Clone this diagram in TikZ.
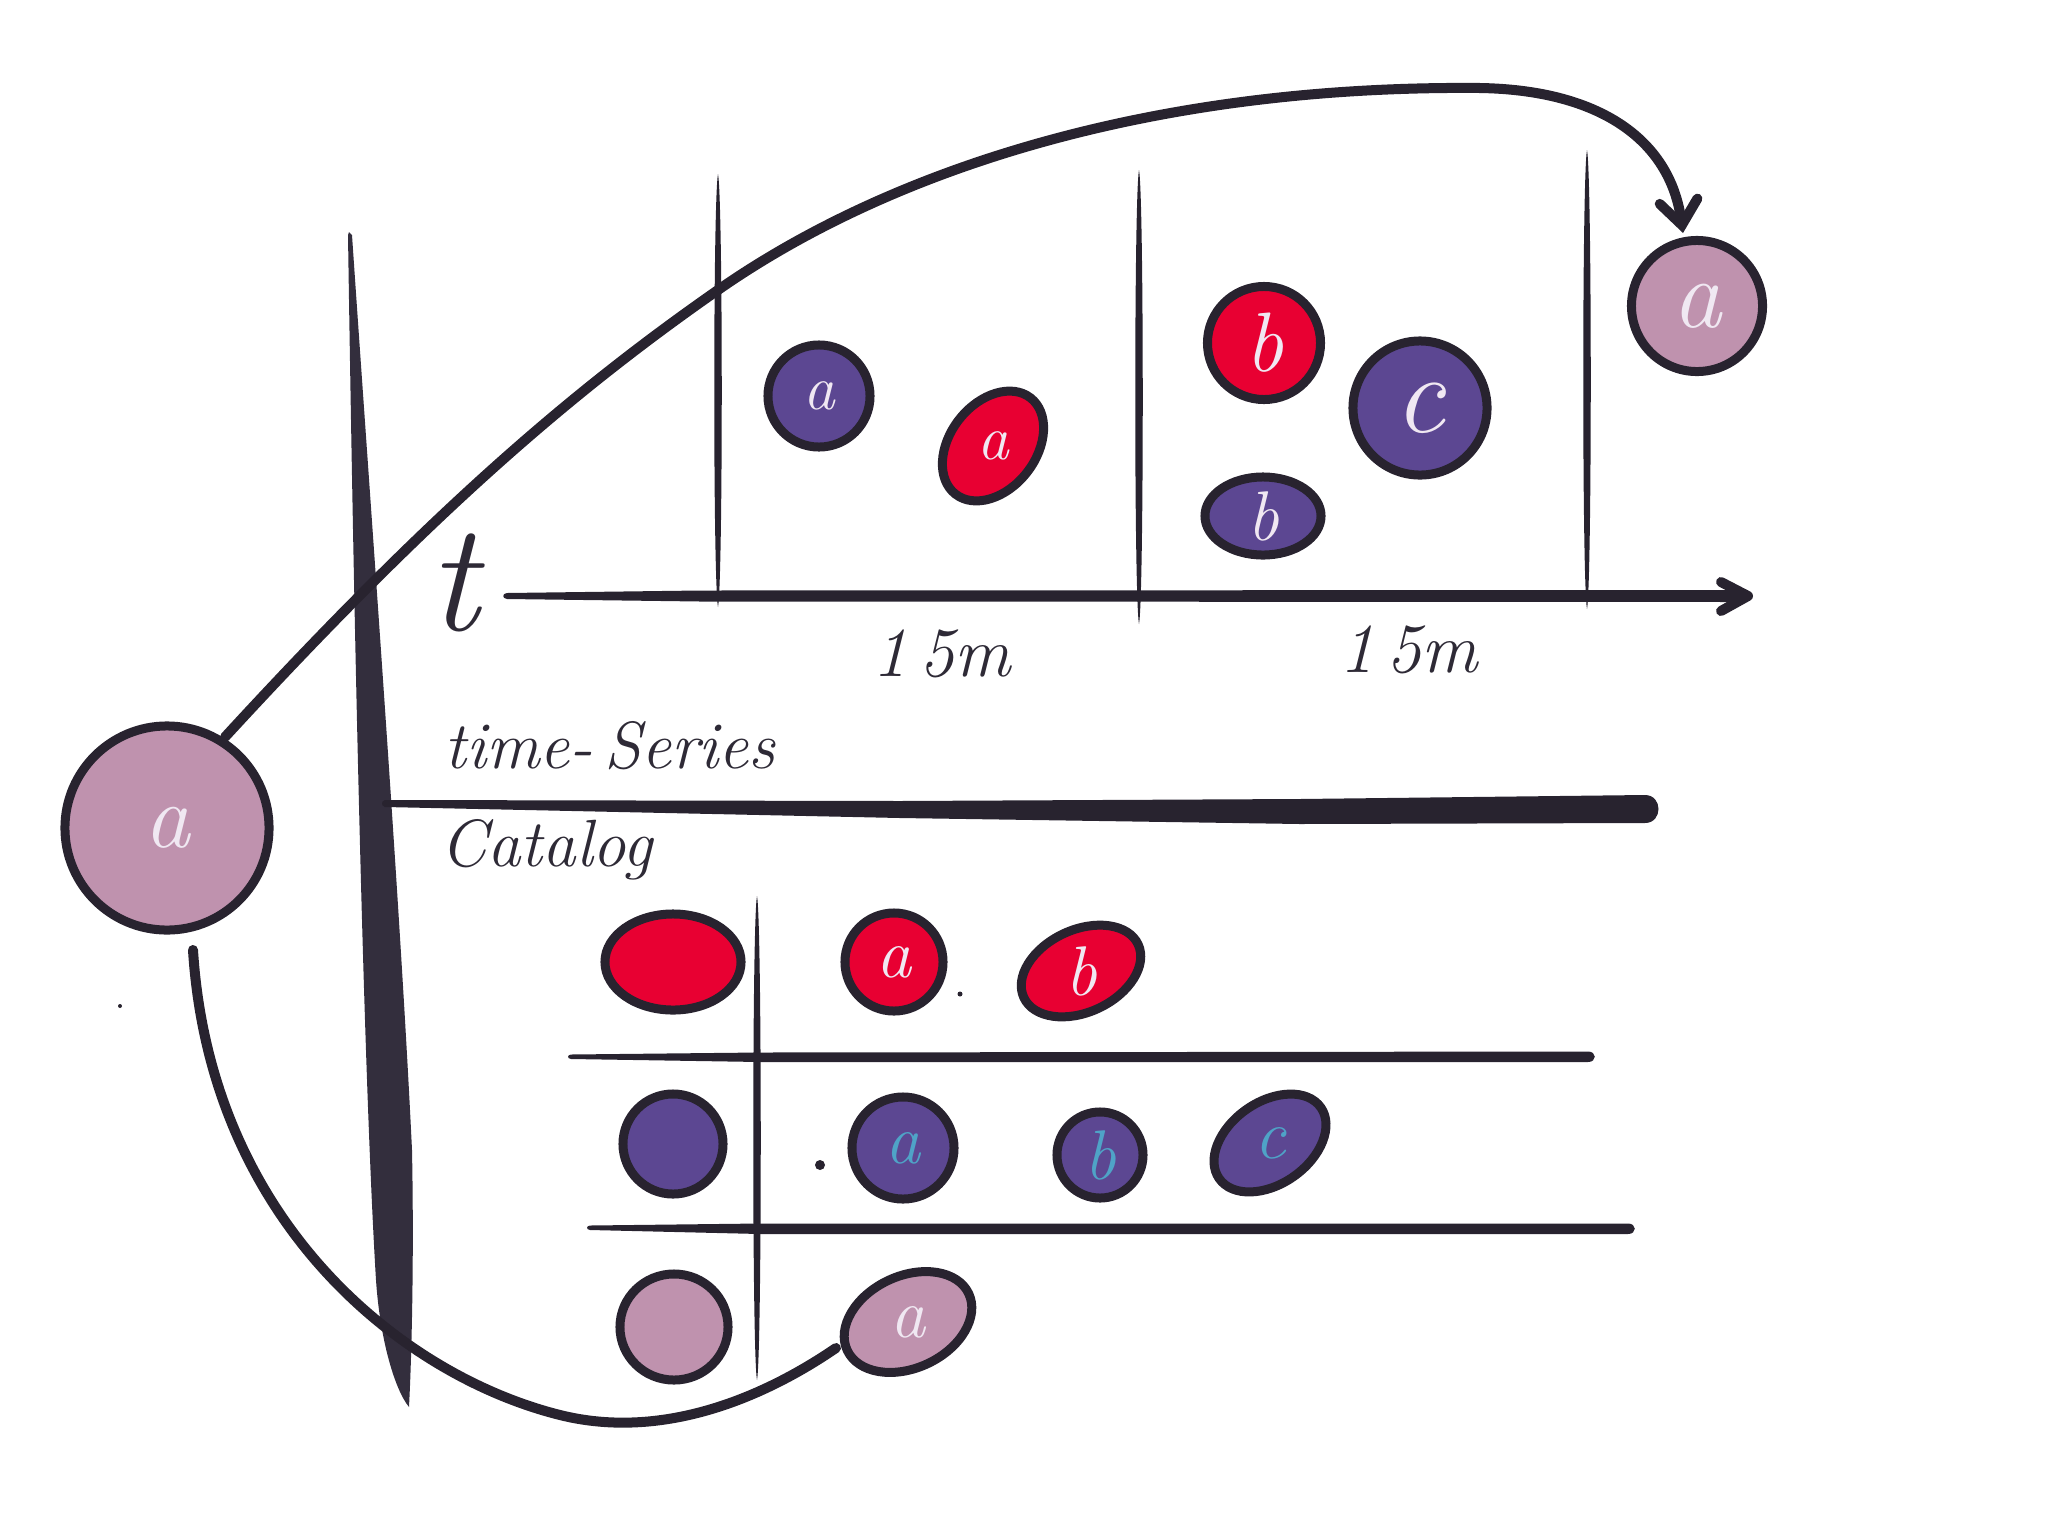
\documentclass[tikz,border=0pt]{standalone}
\usepackage{fontspec}
\usetikzlibrary{shapes.geometric,calc,arrows.meta}
\definecolor{ink}{HTML}{28232F}
\definecolor{wedgec}{HTML}{332E3D}
\definecolor{purp}{HTML}{5C4792}
\definecolor{redc}{HTML}{E80032}
\definecolor{pinkc}{HTML}{BF92AE}
\definecolor{lett}{HTML}{F0E8F2}
\definecolor{tealc}{HTML}{4FA3C7}
\definecolor{textc}{HTML}{2E2A36}
\newcommand\spindlev[4]{\fill[ink] (#1,#2) .. controls (#1+#4,#2+25) and (#1+#4,#3-25) .. (#1,#3) .. controls (#1-#4,#3-25) and (#1-#4,#2+25) .. cycle;}
\newcommand\handfs[1]{\itshape\fontsize{#1}{#1}\selectfont}
\begin{document}
\begin{tikzpicture}[x=0.01cm,y=-0.01cm,
  blob/.style={draw=ink, line width=0.09cm, inner sep=0pt, outer sep=0pt, text=lett, font=\handfs{18}},
  disc/.style={blob, circle, minimum size=#1},
  oval/.style={blob, ellipse},
  pur/.style={fill=purp},
  red/.style={fill=redc},
  pnk/.style={fill=pinkc},
  hand/.style={text=textc, inner sep=0pt, font=\handfs{19}},
  conn/.style={draw=ink, line width=0.1cm, line cap=round},
  tipln/.style={draw=ink, line width=0.1cm, line cap=round, line join=round}
]
\useasboundingbox (0,0) rectangle (2048,1536);

% wedge
\fill[wedgec] (349,232) -- (352,235)
  .. controls (370,500) and (400,900) .. (412,1150)
  .. controls (414,1250) and (412,1350) .. (409,1407)
  .. controls (395,1390) and (380,1340) .. (376,1280)
  .. controls (365,1100) and (355,700) .. (348,235) -- cycle;

% time axis
\fill[ink] (507,593) .. controls (502,593.5) and (502,598.5) .. (507,599) -- (700,601.5) -- (1742,602) -- (1742,590) -- (700,590.5) -- cycle;
\draw[tipln] (1721,582) -- (1748,596) -- (1721,611);

% ticks
\spindlev{718}{174}{607}{5}
\spindlev{1139}{170}{624}{5}
\spindlev{1587}{150}{609}{5}

% separator
\fill[ink] (385,800) -- (900,801) -- (1300,799) -- (1645,795)
  .. controls (1663,795) and (1663,823) .. (1645,823)
  -- (1300,824) -- (900,818) -- (385,807)
  .. controls (381,806) and (381,801) .. cycle;

% catalog grid
\spindlev{757}{896}{1380}{5}
\fill[ink] (571,1054.5) -- (760,1052.5) -- (1588,1051.5)
  .. controls (1597,1051.5) and (1597,1062) .. (1588,1062)
  -- (760,1062) -- (571,1059) .. controls (567,1058.5) and (567,1055) .. cycle;
\fill[ink] (590,1225.5) -- (760,1223.5) -- (1628,1223.5)
  .. controls (1637,1223.5) and (1637,1234) .. (1628,1234)
  -- (760,1234) -- (590,1230) .. controls (586,1229.5) and (586,1226) .. cycle;

% labels
\node[hand, font=\handfs{44}, anchor=base west] (tlab) at (428,630) {t};
\node[hand, font=\handfs{20}, anchor=base west] (m1) at (872,676) {1\,5m};
\node[hand, font=\handfs{20}, anchor=base west] (m2) at (1339,672) {1\,5m};
\node[hand, anchor=base west] (ts) at (444,768) {time-\,Series};
\node[hand, anchor=base west] (cat) at (440,866) {Catalog};

% end circles
\node[disc=2.04cm, pnk, font=\handfs{26}] (bigA) at (167,828) {a};
\node[disc=1.31cm, pnk, font=\handfs{28}] (topA) at (1697,306) {a};

% time-series blobs
\node[disc=1.02cm, pur] (tsPa) at (819,396) {a};
\node[oval, red, minimum width=1.22cm, minimum height=0.86cm, rotate=52] (tsRa) at (993,446) {\rotatebox{-52}{a}};
\node[disc=1.13cm, red, font=\handfs{24}] (tsRb) at (1264,343) {b};
\node[disc=1.34cm, pur, font=\handfs{32}] (tsPc) at (1420,408) {c};
\node[oval, pur, minimum width=1.16cm, minimum height=0.78cm, font=\handfs{20}] (tsPb) at (1263,516) {b};

% catalog blobs
\node[oval, red, minimum width=1.36cm, minimum height=0.96cm] (cRk) at (673,962) {};
\node[disc=0.98cm, red, font=\handfs{20}] (cRa) at (894,962) {a};
\node[oval, red, minimum width=1.26cm, minimum height=0.80cm, rotate=25, font=\handfs{20}] (cRb) at (1081,971) {\rotatebox{-25}{b}};
\node[disc=1.00cm, pur] (cPk) at (673,1144) {};
\node[disc=1.02cm, pur, text=tealc, font=\handfs{20}] (cPa) at (903,1148) {a};
\node[disc=0.86cm, pur, text=tealc, font=\handfs{20}] (cPb) at (1100,1155) {b};
\node[oval, pur, minimum width=1.24cm, minimum height=0.82cm, rotate=35, text=tealc, font=\handfs{20}] (cPc) at (1270,1143) {\rotatebox{-35}{c}};
\node[oval, pnk, minimum width=1.08cm, minimum height=1.06cm] (cKk) at (674,1327) {};
\node[oval, pnk, minimum width=1.34cm, minimum height=0.92cm, rotate=25, font=\handfs{20}] (pinkA) at (908,1322) {\rotatebox{-25}{a}};

% stray dots
\fill[ink] (960,994) circle (2.5);
\fill[ink] (820,1165) circle (5);
\fill[ink] (120,1006) circle (2);

% connectors
\draw[conn, -{Straight Barb[length=0.24cm,width=0.38cm,line cap=round]}]
  ($(bigA.center)+(58,-91)$) .. controls (420,525) and (560,400) .. (718,290)
  .. controls (890,170) and (1150,85) .. (1480,88)
  .. controls (1600,90) and (1670,140) .. ($(topA.center)+(-14,-73)$);
\draw[conn]
  ($(bigA.center)+(26,122)$) .. controls (210,1220) and (400,1375) .. (560,1415)
  .. controls (660,1440) and (760,1400) .. ($(pinkA.center)+(-72,26)$);
\end{tikzpicture}
\end{document}
